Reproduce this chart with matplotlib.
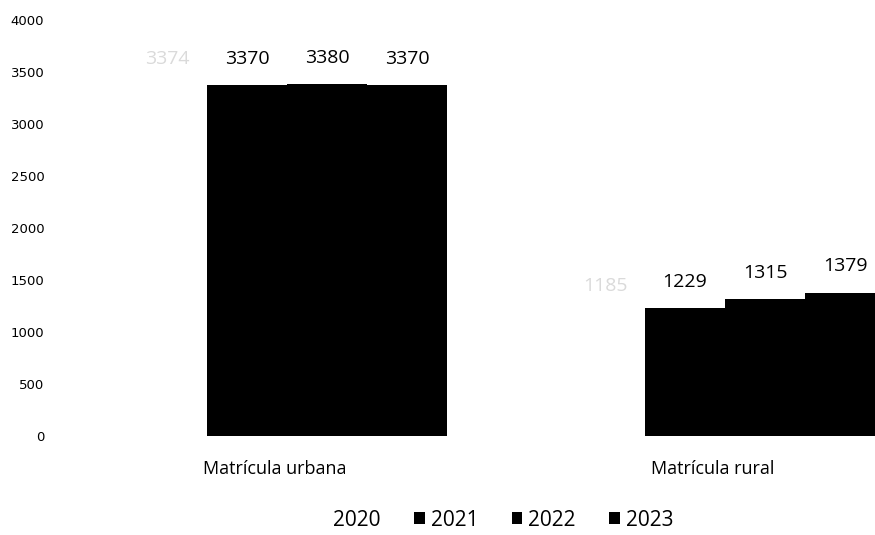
"""
Matrícula urbana x rural, 2020-2023
"""

import numpy as np
import matplotlib
matplotlib.use('Agg')
import matplotlib.pyplot as plt

plt.rcParams['font.family'] = ['Open Sans', 'DejaVu Sans']

categories = ['Matrícula urbana', 'Matrícula rural']
years = ['2020', '2021', '2022', '2023']
values = {
    '2020': [3374, 1185],
    '2021': [3370, 1229],
    '2022': [3380, 1315],
    '2023': [3370, 1379],
}
yticks = [0, 500, 1000, 1500, 2000, 2500, 3000, 3500, 4000]

# 2020 comes out almost invisible in the original scan
bar_colors = ['white', 'black', 'black', 'black']
label_colors = ['#dadada', 'black', 'black', 'black']

fig = plt.figure(figsize=(8.75, 5.35), dpi=100)
ax = fig.add_axes([0.057, 0.185, 0.943, 0.778])

x = np.arange(len(categories))
width = 0.1826

for i, year in enumerate(years):
    pos = x + (i - 1.5) * width
    bars = ax.bar(pos, values[year], width, color=bar_colors[i],
                  edgecolor='none', label=year)
    for b, v in zip(bars, values[year]):
        ax.annotate(str(v), (b.get_x() + b.get_width() / 2, v),
                    xytext=(0, 19), textcoords='offset points',
                    ha='center', va='center', fontsize=14,
                    color=label_colors[i])

ax.set_xlim(-0.5411, 1.3425)
ax.set_ylim(0, 4000)
ax.set_yticks(yticks)
ax.set_yticklabels([str(t) for t in yticks], family='DejaVu Sans', fontsize=9.5)
ax.tick_params(axis='y', length=0, pad=4)

ax.set_xticks(x - 0.028)
ax.set_xticklabels(categories, fontsize=13)
ax.tick_params(axis='x', length=0, pad=17)

for side in ['top', 'right', 'left', 'bottom']:
    ax.spines[side].set_visible(False)

fig.legend(loc='center', bbox_to_anchor=(495 / 875, 1 - 520 / 535),
           ncol=4, frameon=False, fontsize=15, handlelength=0.5,
           handleheight=0.5, handletextpad=0.3, columnspacing=1.6)

fig.savefig('out.png', dpi=100)
